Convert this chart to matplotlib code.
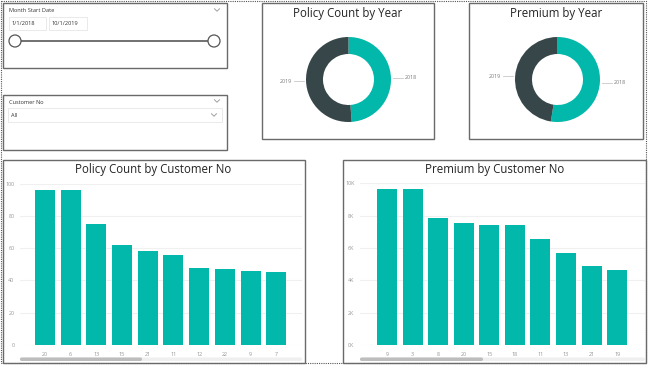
import math
import matplotlib
matplotlib.use("Agg")
import matplotlib.pyplot as plt
from matplotlib.patches import Rectangle, Circle, FancyBboxPatch
from matplotlib.lines import Line2D

# ---------------- data ----------------
years = ['2018', '2019']
policy_count_year = [244, 256]
premium_year = [52500, 47500]

policy_customers = ['20', '6', '13', '15', '21', '11', '12', '22', '9', '7']
policy_counts = [96, 96, 75, 62, 58, 56, 48, 47, 46, 45]
policy_yticks = [0, 20, 40, 60, 80, 100]

premium_customers = ['9', '3', '8', '20', '15', '18', '11', '13', '21', '19']
premium_values = [9650, 9650, 7860, 7570, 7440, 7440, 6540, 5690, 4870, 4620]
premium_yticks = [0, 2000, 4000, 6000, 8000, 10000]
premium_yticklabels = ['0K', '2K', '4K', '6K', '8K', '10K']

date_start = '1/1/2018'
date_end = '10/1/2019'

# ---------------- style ----------------
TEAL = '#01B8AA'
DARK = '#374649'
TITLE_C = '#252423'
TICK_C = '#959595'
BORDER_C = '#6a6a6a'
FONT = 'Open Sans'
plt.rcParams['font.family'] = [FONT, 'DejaVu Sans']

W, H = 650, 365
fig = plt.figure(figsize=(W / 100, H / 100), dpi=100)


def px_axes(l, t, r, b, **kw):
    return fig.add_axes([l / W, 1 - b / H, (r - l) / W, (b - t) / H], **kw)


bg = px_axes(0, 0, W, H)
bg.set_xlim(0, W)
bg.set_ylim(H, 0)
bg.axis('off')
bg.set_zorder(0)


def box(l, t, r, b, ec=BORDER_C, lw=1.0, fc='none', ls='-'):
    bg.add_patch(Rectangle((l, t), r - l, b - t, fill=(fc != 'none'), facecolor=fc,
                           edgecolor=ec, lw=lw, ls=ls))


def chevron(x, y, s=2.5, c='#a0a0a0'):
    bg.add_line(Line2D([x - s, x, x + s], [y - s * 0.5, y + s * 0.5, y - s * 0.5],
                       color=c, lw=0.7))


# dotted outer canvas border
box(1, 1, 646, 362.5, ec='#555555', lw=0.8, ls=(0, (1, 1)))

# ---------------- slicer 1 ----------------
box(3, 3, 227, 68)
bg.text(9, 10, 'Month Start Date', fontsize=4.1, color='#333333', va='center', ha='left')
chevron(217, 10)
box(9, 17, 46, 30, ec='#e6e6e6', lw=0.6)
box(49, 17, 87, 30, ec='#e6e6e6', lw=0.6)
bg.text(12, 23.5, date_start, fontsize=4.1, color='#333333', va='center', ha='left')
bg.text(52, 23.5, date_end, fontsize=4.1, color='#333333', va='center', ha='left')
bg.add_line(Line2D([15, 214], [41, 41], color='#666666', lw=1.3))
for cx in (15, 214):
    bg.add_patch(Circle((cx, 41), 6, facecolor='white', edgecolor='#555555', lw=0.9, zorder=3))

# ---------------- slicer 2 ----------------
box(3, 95, 227, 150)
bg.text(9, 102, 'Customer No', fontsize=4.1, color='#333333', va='center', ha='left')
chevron(217, 101)
box(8, 108, 222, 122, ec='#e6e6e6', lw=0.6)
bg.text(11, 115.5, 'All', fontsize=4.1, color='#333333', va='center', ha='left')
chevron(214, 115)


# ---------------- donut charts ----------------
def donut(l, t, r, b, cx, cy, title, values):
    box(l, t, r, b)
    bg.text((l + r) / 2, 13.5, title, fontsize=8.3, color=TITLE_C, ha='center', va='center')
    R = 42.5
    ax = px_axes(cx - R, cy - R, cx + R, cy + R)
    ax.set_zorder(2)
    ax.patch.set_alpha(0)
    wedges, _ = ax.pie(values, colors=[TEAL, DARK], startangle=90, counterclock=False,
                       radius=1.0, wedgeprops=dict(width=0.4, edgecolor='none'))
    ax.set_xlim(-1, 1)
    ax.set_ylim(-1, 1)
    ax.set_aspect('equal')
    ax.axis('off')
    for w, lab in zip(wedges, years):
        mid = math.radians((w.theta1 + w.theta2) / 2)
        y = math.sin(mid)
        s = 1 if math.cos(mid) >= 0 else -1
        ax.add_line(Line2D([s * 1.05, s * 1.28], [y, y], color='#c8c8c8', lw=0.6, clip_on=False))
        ax.text(s * 1.32, y, lab, fontsize=3.9, color='#777777', va='center',
                ha='left' if s > 0 else 'right', clip_on=False)


donut(262, 3, 434, 139, 348.5, 79.5, 'Policy Count by Year', policy_count_year)
donut(469, 3, 643, 139, 557.5, 79.5, 'Premium by Year', premium_year)


# ---------------- bar charts ----------------
def bars(bl, bt, br, bb, pl, pt, pr, pb, xlim, title, tcx, cats, vals, ymax, yt, ytl,
         thumb_r):
    box(bl, bt, br, bb)
    bg.text(tcx, 170, title, fontsize=8.3, color=TITLE_C, ha='center', va='center')
    ax = px_axes(pl, pt, pr, pb)
    ax.set_zorder(2)
    ax.patch.set_alpha(0)
    ax.bar(range(len(cats)), vals, width=0.78, color=TEAL, zorder=3)
    ax.set_xlim(*xlim)
    ax.set_ylim(0, ymax)
    ax.set_yticks(yt)
    ax.set_yticklabels(ytl)
    ax.set_xticks(range(len(cats)))
    ax.set_xticklabels(cats)
    ax.tick_params(axis='both', length=0, labelsize=3.9, labelcolor=TICK_C)
    ax.tick_params(axis='y', pad=4)
    ax.tick_params(axis='x', pad=5)
    ax.grid(axis='y', color='#f0f0f0', lw=0.8, zorder=0)
    for s in ax.spines.values():
        s.set_visible(False)
    # scroll bar
    bg.add_patch(FancyBboxPatch((pl, 357.5), pr - pl, 3.5, boxstyle='round,pad=0,rounding_size=1.7',
                                facecolor='#efefef', edgecolor='none'))
    bg.add_patch(FancyBboxPatch((pl, 357.5), thumb_r - pl, 3.5, boxstyle='round,pad=0,rounding_size=1.7',
                                facecolor='#bdbdbd', edgecolor='none'))


bars(3, 160, 305, 363, 20, 183.7, 302, 345, (-0.97, 10.0), 'Policy Count by Customer No', 153.5,
     policy_customers, policy_counts, 100, policy_yticks, [str(v) for v in policy_yticks], 142)
bars(343, 160, 646, 363, 360, 183.3, 645, 345, (-1.06, 10.09), 'Premium by Customer No', 494.5,
     premium_customers, premium_values, 10000, premium_yticks, premium_yticklabels, 483)

fig.savefig('out.png', dpi=100, facecolor='white')
